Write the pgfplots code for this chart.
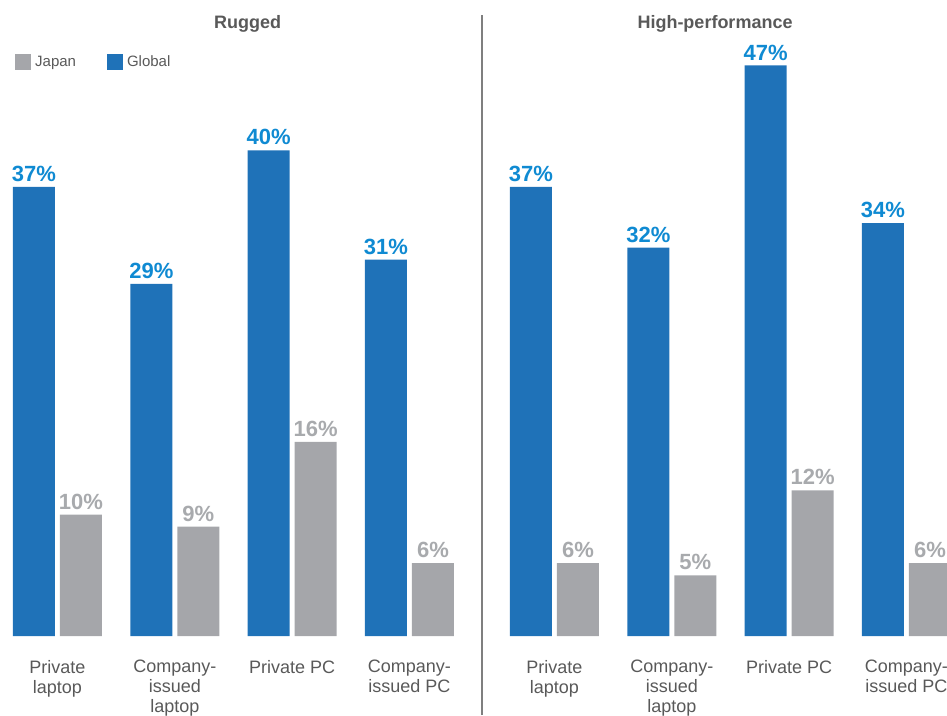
\documentclass[border=0pt]{standalone}
\usepackage{pgfplots}
\usepackage{pgfplotstable}
\pgfplotsset{compat=1.18}
\usepackage{fontspec}
\setmainfont{Liberation Sans}
\definecolor{globalbar}{HTML}{1F72B8}
\definecolor{globallab}{HTML}{0F8AD2}
\definecolor{japanbar}{HTML}{A5A6AA}
\definecolor{japanlab}{HTML}{A8AAAD}
\definecolor{txt}{HTML}{595959}
\definecolor{sep}{HTML}{7F7F7F}

\pgfplotstableread{
x rugJ rugG hpJ hpG
0 10 37 6 37
1 9 29 5 32
2 16 40 12 47
3 6 31 6 34
}\data

\pgfplotsset{panel/.style={
  x=117.33pt, y=12.14pt, anchor=south west,
  ymin=0, ymax=51,
  ybar, bar width=42pt,
  axis x line*=bottom, axis y line*=left, axis line style={draw=none},
  ytick=\empty, xtick={0,1,2,3}, xtick style={draw=none}, major tick length=0pt,
  xticklabels={{Private\\laptop},{Company-\\issued\\laptop},{Private PC},{Company-\\issued PC}},
  xticklabel style={align=center, font=\fontsize{18}{20}\selectfont, text=txt, anchor=north, inner sep=0pt, yshift=-24pt},
  /pgf/number format/assume math mode=true,
  point meta=y,
  nodes near coords={\pgfmathprintnumber[assume math mode=true]{\pgfplotspointmeta}\%},
  every node near coord/.append style={font=\fontsize{22}{24}\selectfont\bfseries, anchor=south, inner sep=0pt, yshift=5pt},
  title style={font=\fontsize{18}{20}\selectfont\bfseries, text=txt, anchor=center},
  clip=false,
}}

\begin{document}
\begin{tikzpicture}
\path[use as bounding box] (0,0) rectangle (947pt,715pt);
\clip (0,0) rectangle (947pt,715pt);

\begin{axis}[panel, at={(0pt,79pt)}, xmin=-0.49, xmax=3.5,
  title=Rugged, title style={at={(axis description cs:0.529,0.979)}},
  legend style={at={(axis description cs:0.032,0.927)}, anchor=west, draw=none, fill=none, inner sep=0pt,
    font=\fontsize{15}{17}\selectfont, text=txt,
    /tikz/every even column/.append style={column sep=29pt}},
  legend columns=2,
  legend image code/.code={\fill[#1] (0pt,-8pt) rectangle (16pt,8pt);},
]
\addplot[fill=japanbar, draw=none, bar shift=23.5pt,
  every node near coord/.append style={text=japanlab}] table[x=x, y=rugJ] {\data};
\addlegendentry{\hspace{2pt}Japan}
\addplot[fill=globalbar, draw=none, bar shift=-23.5pt,
  every node near coord/.append style={text=globallab}] table[x=x, y=rugG] {\data};
\addlegendentry{\hspace{2pt}Global}
\end{axis}

\begin{axis}[panel, at={(495.8pt,79pt)}, xmin=-0.5, xmax=3.8,
  title=High-performance, title style={at={(axis description cs:0.4345,0.979)}},
]
\addplot[fill=japanbar, draw=none, bar shift=23.5pt,
  every node near coord/.append style={text=japanlab}] table[x=x, y=hpJ] {\data};
\addplot[fill=globalbar, draw=none, bar shift=-23.5pt,
  every node near coord/.append style={text=globallab}] table[x=x, y=hpG] {\data};
\end{axis}

\draw[sep, line width=1.3pt] (482pt,0pt) -- (482pt,700pt);
\end{tikzpicture}
\end{document}
